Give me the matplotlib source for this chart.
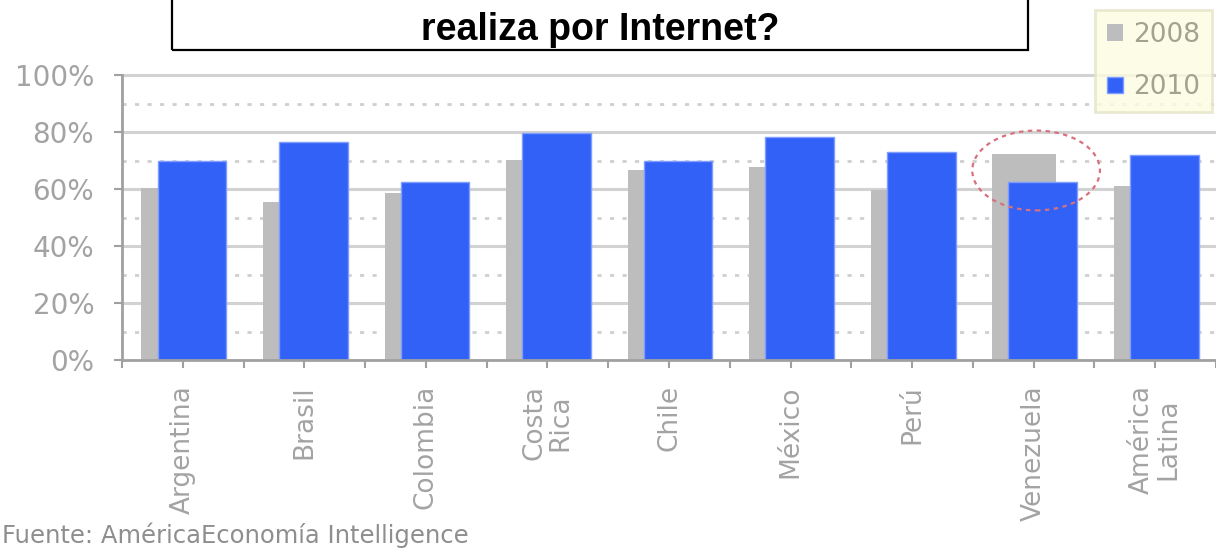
"""
Share of purchases made over the Internet, by country, 2008 vs 2010.
Grouped (overlapping) bar chart saved to out.png.
"""

import numpy as np
import matplotlib.pyplot as plt
from matplotlib.patches import Ellipse, Rectangle

countries = ['Argentina', 'Brasil', 'Colombia', 'Costa\nRica', 'Chile',
             'México', 'Perú', 'Venezuela', 'América\nLatina']
pct_2008 = [60.3, 55.5, 58.6, 70.2, 66.7, 67.7, 59.6, 72.2, 61.0]
pct_2010 = [69.8, 76.5, 62.5, 79.6, 70.0, 78.2, 73.0, 62.5, 71.8]
series_labels = ['2008', '2010']
yticks = [0, 20, 40, 60, 80, 100]
ytick_labels = ['0%', '20%', '40%', '60%', '80%', '100%']
title = 'realiza por Internet?'
source = 'Fuente: AméricaEconomía Intelligence'
highlight = 'Venezuela'

GRAY = '#bdbdbd'
BLUE = '#3161f6'
TEXT = '#a3a3a3'


def main():
    """
    Draw the chart and save it.
    """
    W, H = 1216, 548
    fig = plt.figure(figsize=(W / 100, H / 100), dpi=100)
    fig.patch.set_facecolor('white')

    # axes area in pixels: y-axis at x=122, 0% at y=360, 100% at y=75
    left, bottom, top = 122, 360, 75
    ax = fig.add_axes([left / W, 1 - bottom / H, (W - left) / W, (bottom - top) / H])

    x = np.arange(len(countries))
    b08 = ax.bar(x - 0.08, pct_2008, width=0.52, color=GRAY, zorder=2,
                 label=series_labels[0])
    b10 = ax.bar(x + 0.075, pct_2010, width=0.565, color=BLUE,
                 edgecolor='#7f9dff', linewidth=1, zorder=3,
                 label=series_labels[1])

    ax.set_xlim(-0.5, -0.5 + (W - left) / 122)
    ax.set_ylim(0, 100)

    # grid: solid every 20%, dotted in between
    for v in yticks[1:]:
        ax.axhline(v, color='#d2d2d2', lw=2.2, zorder=1, clip_on=False)
    for v in range(10, 100, 20):
        ax.axhline(v, color='#cfcfcf', lw=2, ls=(0, (1.5, 3)), zorder=1)

    for side in ['top', 'right']:
        ax.spines[side].set_visible(False)
    for side in ['left', 'bottom']:
        ax.spines[side].set_color('#a0a0a0')
        ax.spines[side].set_linewidth(2)
        ax.spines[side].set_zorder(4)

    ax.set_yticks(yticks)
    ax.set_yticklabels(ytick_labels)
    ax.tick_params(axis='y', length=6, width=1.5, color='#a0a0a0',
                   labelcolor=TEXT, labelsize=20, pad=14)

    ax.set_xticks(x)
    ax.set_xticklabels(countries, rotation=90, ha='center', va='top',
                       multialignment='center', linespacing=1.0)
    ax.set_xticks(np.arange(-0.5, len(countries), 1.0), minor=True)
    ax.tick_params(axis='x', which='both', length=6, width=1.5,
                   color='#a0a0a0', labelcolor=TEXT, labelsize=19, pad=12)

    # circle around the one country that went down
    i = countries.index(highlight)
    ring = Ellipse((i + 0.02, 66.5), width=1.05, height=28, fill=False,
                   edgecolor='#d9707e', lw=1.6, ls=(0, (2, 2)), zorder=5,
                   clip_on=False)
    ax.add_patch(ring)

    leg = fig.legend(handles=[b08, b10], labels=series_labels,
                     loc='upper right', bbox_to_anchor=(1212 / W, 1 - 10 / H),
                     borderaxespad=0, frameon=True, fancybox=False,
                     facecolor='#fdfde2', edgecolor='#e4e4c8', fontsize=19,
                     labelcolor='#a2a28e', handlelength=0.6, handleheight=0.6,
                     handletextpad=0.4, labelspacing=1.0, borderpad=0.45)
    leg.get_frame().set_linewidth(2)

    # title box, its top runs off the figure
    fig.patches.append(Rectangle((172 / W, 1 - 50 / H), (1028 - 172) / W, 60 / H,
                                 transform=fig.transFigure, fill=False,
                                 edgecolor='black', lw=1.6, clip_on=False))
    fig.text(600 / W, 1 - 30 / H, title, ha='center', va='center',
             fontsize=27, fontweight='bold', family='Liberation Sans')

    fig.text(2 / W, 1 - 535 / H, source, ha='left', va='center',
             fontsize=17.5, color='#8e8e8e')

    fig.savefig('out.png', dpi=100)


if __name__ == '__main__':
    main()
